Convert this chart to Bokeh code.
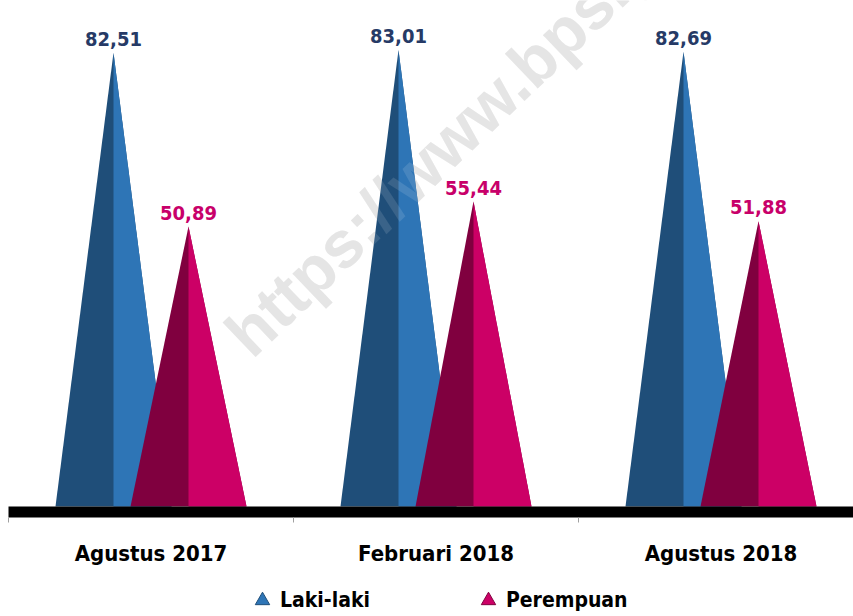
from bokeh.plotting import figure
from bokeh.models import Range1d, Label, Legend, LegendItem, ColumnDataSource
from bokeh.core.properties import value
from bokeh.embed import file_html
from bokeh.resources import INLINE

# ---- data ----
categories = ["Agustus 2017", "Februari 2018", "Agustus 2018"]
laki = [82.51, 83.01, 82.69]
perempuan = [50.89, 55.44, 51.88]
laki_labels = ["82,51", "83,01", "82,69"]
perempuan_labels = ["50,89", "55,44", "51,88"]

# ---- styling ----
FONT = "DejaVu Sans Condensed"
W, H = 853, 616
PX_X = 285.0          # pixels per category
PX_Y = 5.5            # pixels per unit
BASE_FROM_BOTTOM = 110
LEFT = 8
OFF = 0.1316          # series offset inside category
HW = 0.2035           # half width of each peak

p = figure(width=W, height=H, output_backend="svg", toolbar_location=None,
           x_range=Range1d(-LEFT / PX_X, (W - LEFT) / PX_X),
           y_range=Range1d(-BASE_FROM_BOTTOM / PX_Y, (H - BASE_FROM_BOTTOM) / PX_Y),
           min_border=0)
p.axis.visible = False
p.grid.visible = False
p.outline_line_color = None
p.background_fill_color = "white"
p.border_fill_color = "white"

# watermark (behind)
wm_kw = dict(x=236, y=273, x_units="screen", y_units="screen", angle=43.6, angle_units="deg",
             text="https://www.bps.go.id", text_font="Liberation Sans",
             text_font_style="bold", text_font_size="66px", text_baseline="alphabetic",
             text_align="left")
p.add_layout(Label(level="underlay", text_color="#e2e2e2", **wm_kw))


def peaks(vals, off):
    cx = [i + 0.5 + off for i in range(len(vals))]
    full_xs = [[c - HW, c, c + HW] for c in cx]
    full_ys = [[0, v, 0] for v in vals]
    light_xs = [[c, c + HW, c] for c in cx]
    light_ys = [[0, 0, v] for v in vals]
    return cx, full_xs, full_ys, light_xs, light_ys


cx_l, fxl, fyl, lxl, lyl = peaks(laki, -OFF)
cx_p, fxp, fyp, lxp, lyp = peaks(perempuan, OFF)

p.patches(fxl, fyl, fill_color="#1f4e79", line_color=None)
p.patches(lxl, lyl, fill_color="#2e75b6", line_color=None)
p.patches(fxp, fyp, fill_color="#80003f", line_color=None)
p.patches(lxp, lyp, fill_color="#cc0066", line_color=None)

# watermark light overlay
p.add_layout(Label(level="overlay", text_color="white", text_alpha=0.12, **wm_kw))

# baseline
ncat = len(categories)
p.quad(left=0, right=(W - LEFT) / PX_X, top=0, bottom=-11 / PX_Y, fill_color="black", line_color=None)
bounds = list(range(ncat + 1))
p.segment(x0=bounds, y0=[-11 / PX_Y] * len(bounds), x1=bounds, y1=[-16 / PX_Y] * len(bounds),
          line_color="#a0a0a0", line_width=1)

# value labels
p.text(x=cx_l, y=laki, text=laki_labels, y_offset=-14, text_align="center",
       text_baseline="alphabetic", text_font=value(FONT), text_font_style="bold",
       text_font_size="20px", text_color="#263a66")
p.text(x=cx_p, y=perempuan, text=perempuan_labels, y_offset=-14, text_align="center",
       text_baseline="alphabetic", text_font=value(FONT), text_font_style="bold",
       text_font_size="20px", text_color="#c8006a")

# category labels
p.text(x=[i + 0.5 for i in range(ncat)], y=[0] * ncat, text=categories, y_offset=47,
       text_align="center", text_baseline="alphabetic", text_font=value(FONT),
       text_font_style="bold", text_font_size="22px", text_color="black")

# legend
nan = float("nan")
r1 = p.scatter("x", "y", source=ColumnDataSource(dict(x=[nan], y=[nan])), marker="triangle",
               fill_color="#2e75b6", line_color="#1f4e79")
r2 = p.scatter("x", "y", source=ColumnDataSource(dict(x=[nan], y=[nan])), marker="triangle",
               fill_color="#cc0066", line_color="#80003f")
legend = Legend(items=[LegendItem(label="Laki-laki", renderers=[r1]),
                       LegendItem(label="Perempuan", renderers=[r2])],
                orientation="horizontal", location=(244, -2),
                glyph_width=36, glyph_height=36, label_standoff=0, spacing=100,
                padding=0, margin=0, border_line_color=None, background_fill_alpha=0,
                label_text_font=FONT, label_text_font_style="bold",
                label_text_font_size="21px", label_text_color="black")
p.add_layout(legend, "center")

open("out.html", "w").write(file_html(p, INLINE))
